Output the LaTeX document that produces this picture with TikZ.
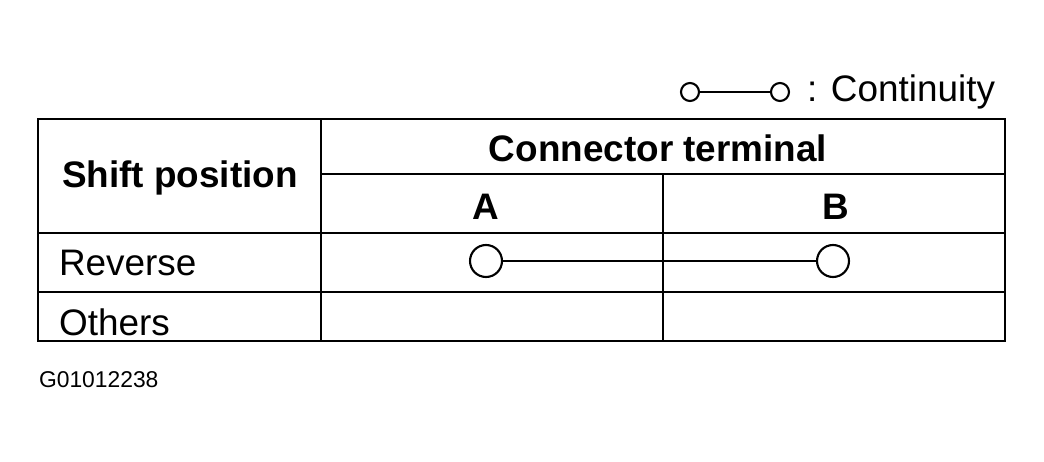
\documentclass[tikz,border=0pt]{standalone}
\usepackage{fontspec}
\setmainfont{Liberation Sans}
\begin{document}
\begin{tikzpicture}[x=0.02cm,y=-0.02cm,line width=1.2pt,
    lbl/.style={inner sep=0pt,font=\fontsize{21}{24}\selectfont},
    hdr/.style={lbl,font=\fontsize{21}{24}\selectfont\bfseries},
    term/.style={shape=circle,draw=black,line width=1.2pt,inner sep=0pt}]

        \useasboundingbox (0,0) rectangle (1044,462);

        % table frame
        \draw (38,119) rectangle (1005,341);
        \draw (321,119) -- (321,341);
        \draw (663,174) -- (663,341);
        \draw (321,174) -- (1005,174);
        \draw (38,233) -- (1005,233);
        \draw (38,292) -- (1005,292);

        % legend
        \node[term,minimum size=0.36cm] (l1) at (690,92) {};
        \node[term,minimum size=0.36cm] (l2) at (780,92) {};
        \draw (l1) -- (l2);
        \node[lbl,anchor=west] (leg) at (806,92) {: Continuity};

        % headers
        \node[hdr] (shift) at (180,178) {Shift position};
        \node[hdr] (conn) at (658,148) {Connector terminal};
        \node[hdr] (ta) at (486,207) {A};
        \node[hdr] (tb) at (836,207) {B};

        % rows
        \node[lbl,anchor=west] (rev) at (58,263) {Reverse};
        \node[lbl,anchor=west] (oth) at (58,322) {Others};
        \node[term,minimum size=0.64cm] (ra) at (486,261) {};
        \node[term,minimum size=0.64cm] (rb) at (833,261) {};
        \draw (ra) -- (rb);

        \node[lbl,anchor=west,font=\fontsize{13}{15}\selectfont] (code) at (38,380) {G01012238};

    \end{tikzpicture}
\end{document}
